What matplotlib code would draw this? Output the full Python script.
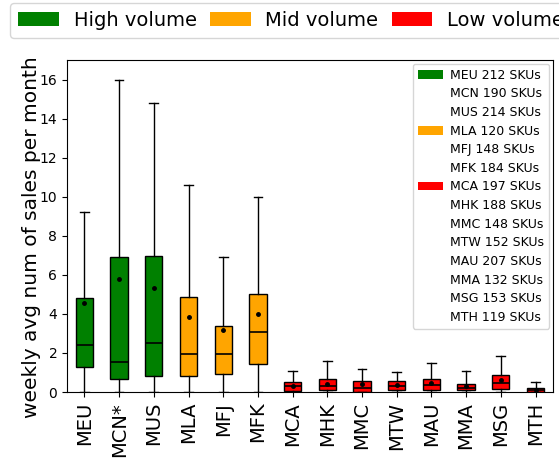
import matplotlib
matplotlib.use("Agg")
import matplotlib.pyplot as plt
from matplotlib.patches import Patch

markets = ["MEU", "MCN*", "MUS", "MLA", "MFJ", "MFK", "MCA", "MHK", "MMC", "MTW", "MAU", "MMA", "MSG", "MTH"]
sku_counts = [212, 190, 214, 120, 148, 184, 197, 188, 148, 152, 207, 132, 153, 119]
groups = ["high", "high", "high", "mid", "mid", "mid",
          "low", "low", "low", "low", "low", "low", "low", "low"]

# box stats
whislo = [0, 0, 0, 0, 0, 0, 0, 0, 0, 0, 0, 0, 0, 0]
q1 = [1.28, 0.69, 0.81, 0.81, 0.94, 1.46, 0.05, 0.08, 0.0, 0.08, 0.12, 0.08, 0.15, 0.0]
med = [2.40, 1.54, 2.53, 1.97, 1.97, 3.05, 0.29, 0.30, 0.20, 0.30, 0.35, 0.22, 0.48, 0.08]
q3 = [4.79, 6.93, 6.97, 4.85, 3.37, 5.0, 0.51, 0.69, 0.55, 0.55, 0.65, 0.42, 0.89, 0.20]
whishi = [9.24, 16.0, 14.8, 10.6, 6.93, 10.0, 1.08, 1.58, 1.20, 1.03, 1.49, 1.08, 1.85, 0.51]
means = [4.54, 5.79, 5.31, 3.82, 3.20, 3.99, 0.30, 0.43, 0.40, 0.35, 0.45, 0.30, 0.60, 0.10]

colors = {"high": "green", "mid": "orange", "low": "red"}
group_labels = {"high": "High volume", "mid": "Mid volume", "low": "Low volume"}

fig = plt.figure(figsize=(5.59, 4.58), dpi=100)
ax = fig.add_axes([0.12, 0.144, 0.869, 0.725])

stats = []
for i, m in enumerate(markets):
    stats.append({"label": m, "whislo": whislo[i], "q1": q1[i], "med": med[i],
                  "q3": q3[i], "whishi": whishi[i], "mean": means[i], "fliers": []})

bp = ax.bxp(stats, widths=0.5, patch_artist=True, showmeans=True,
            meanprops=dict(marker="o", markerfacecolor="black", markeredgecolor="black", markersize=2.5),
            medianprops=dict(color="black", linewidth=1.2),
            boxprops=dict(edgecolor="black", linewidth=1),
            whiskerprops=dict(color="black", linewidth=1),
            capprops=dict(color="black", linewidth=1))
for patch, g in zip(bp["boxes"], groups):
    patch.set_facecolor(colors[g])

ax.set_ylim(0, 17)
ax.set_yticks(range(0, 17, 2))
ax.tick_params(axis="y", labelsize=10)
ax.tick_params(axis="x", labelsize=14, labelrotation=90)
ax.set_ylabel("weekly avg num of sales per month", fontsize=14.5)
ax.yaxis.set_label_coords(-0.054, 0.467)

# inner legend: one swatch per group, blank handles for the rest
handles, labels = [], []
seen = set()
for m, n, g in zip(markets, sku_counts, groups):
    name = m.rstrip("*")
    if g not in seen:
        handles.append(Patch(facecolor=colors[g]))
        seen.add(g)
    else:
        handles.append(Patch(facecolor="none", edgecolor="none"))
    labels.append(f"{name} {n} SKUs")
ax.legend(handles, labels, loc="upper right", fontsize=9, labelspacing=0.45,
          handlelength=2.0, handletextpad=0.6, borderaxespad=0.3)

# top legend is wider than the figure, "Low volume" runs off the right edge
top_handles = [Patch(facecolor=colors[g]) for g in ["high", "mid", "low"]]
top_labels = [group_labels[g] for g in ["high", "mid", "low"]]
fig.legend(top_handles, top_labels, loc="upper left", bbox_to_anchor=(0.018, 0.993),
           borderaxespad=0, ncol=3, fontsize=14, handlelength=2.1,
           columnspacing=0.67, handletextpad=0.77)

fig.savefig("out.png", dpi=100)
